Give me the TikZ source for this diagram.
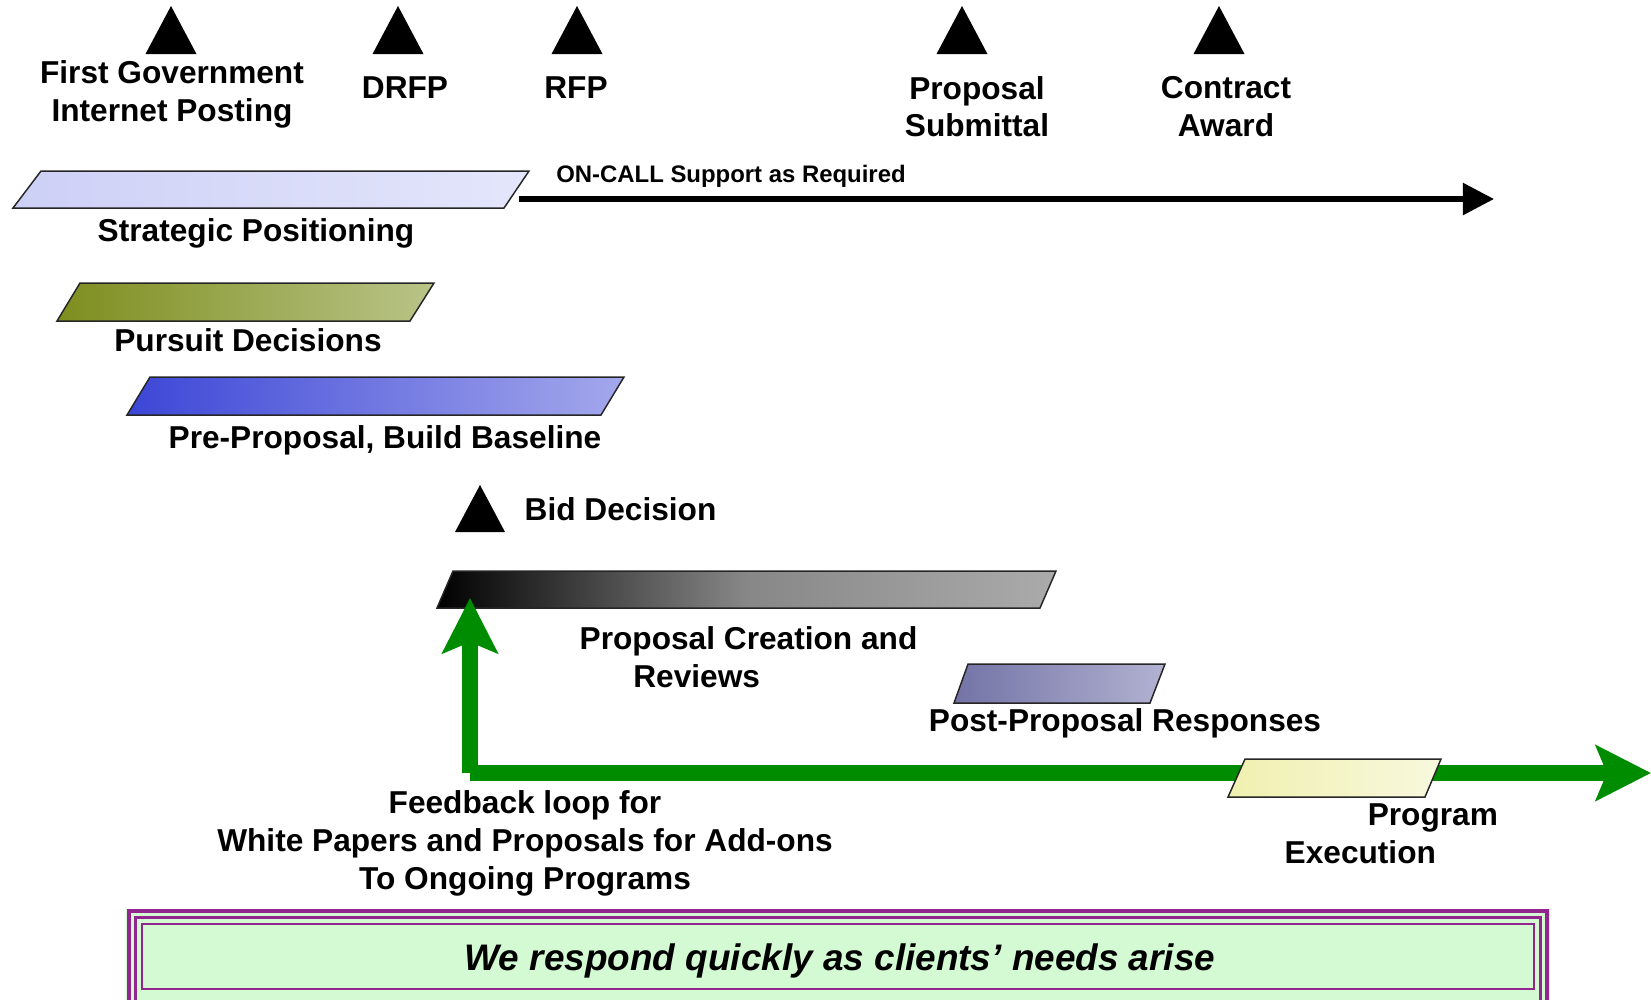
\documentclass[tikz,border=0pt]{standalone}
\usepackage{fontspec}
\setmainfont{Liberation Sans}
\usetikzlibrary{arrows.meta}

\definecolor{flowgreen}{RGB}{0,140,0}
\definecolor{framepurple}{RGB}{146,38,143}
\definecolor{mottogreen}{RGB}{212,250,212}

\begin{document}
\begin{tikzpicture}[x=0.01cm, y=-0.01cm,
	lbl/.style={font=\fontsize{9}{10.7}\selectfont\bfseries, inner sep=0pt, align=center},
	phase/.style={draw=black!85, line width=0.42pt},
	greenflow/.style={flowgreen, line width=4.6pt, -{Stealth[length=0.55cm, width=0.55cm, inset=0.11cm]}}]

	\useasboundingbox (0,0) rectangle (1651,999);

	% Milestones:
	\foreach \x in {171, 398, 577, 962, 1219}
		\fill (\x,6) -- ++(-25.5,48) -- ++(51,0) -- cycle;
	\fill (480,485) -- ++(-25,47) -- ++(50,0) -- cycle;

	% Bars:
	\draw[phase, left color={rgb,255:red,205;green,208;blue,246}, right color={rgb,255:red,228;green,230;blue,251}]
		(41,171) -- (529,171) -- (504,208) -- (13,208) -- cycle;
	\draw[phase, left color={rgb,255:red,126;green,142;blue,30}, right color={rgb,255:red,185;green,196;blue,136}]
		(80,283) -- (434,283) -- (410,321) -- (57,321) -- cycle;
	\draw[phase, left color={rgb,255:red,60;green,70;blue,214}, right color={rgb,255:red,164;green,168;blue,236}]
		(150,377) -- (624,377) -- (601,415) -- (127,415) -- cycle;
	\draw[phase, left color=black, right color=black!33, middle color=black!47]
		(453,571) -- (1056,571) -- (1040,608) -- (437,608) -- cycle;
	\draw[phase, left color={rgb,255:red,115;green,115;blue,166}, right color={rgb,255:red,178;green,178;blue,210}]
		(968,664) -- (1165,664) -- (1150,703) -- (954,703) -- cycle;

	% Arrows:
	\coordinate (callstart) at (519,199);
	\coordinate (callend) at (1494,199);
	\coordinate (corner) at (470,773);
	\coordinate (looptop) at (470,598);
	\coordinate (flowend) at (1651,773);
	\draw[line width=1.55pt, -{Triangle[length=0.31cm, width=0.31cm]}] (callstart) -- (callend);
	\draw[greenflow] (corner) -- (flowend);
	\draw[greenflow] (corner) -- (looptop);

	\draw[phase, left color={rgb,255:red,240;green,240;blue,176}, right color={rgb,255:red,248;green,248;blue,222}]
		(1245,759) -- (1441,759) -- (1425,797) -- (1228,797) -- cycle;

	% Motto box:
	\fill[mottogreen] (126,909) rectangle (1550,1020);
	\draw[framepurple, line width=1.1pt] (129,911) rectangle (1547,1020);
	\draw[framepurple, line width=0.85pt] (135.5,917.5) rectangle (1540.5,1020);
	\draw[framepurple, line width=0.6pt] (142,924) rectangle (1534,989);

	% Labels
	\node[lbl] (firstpost) at (172,94.5) {First Government\\Internet Posting};
	\node[lbl] (drfp) at (405,88) {DRFP};
	\node[lbl] (rfp) at (576,88) {RFP};
	\node[lbl] (submittal) at (977,106.5) {Proposal\\Submittal};
	\node[lbl] (award) at (1226,106.5) {Contract\\Award};
	\node[lbl, font=\fontsize{6.8}{8}\selectfont\bfseries] (oncall) at (731,176.5) {ON-CALL Support as Required};
	\node[lbl] (strategic) at (256,233) {Strategic Positioning};
	\node[lbl] (pursuit) at (248,340) {Pursuit Decisions};
	\node[lbl] (preprop) at (385,440) {Pre-Proposal, Build Baseline};
	\node[lbl, anchor=west] (bid) at (524,509) {Bid Decision};
	\node[lbl, anchor=west, align=left] (creation) at (579,657) {Proposal Creation and\\\hspace*{0.536cm}Reviews};
	\node[lbl] (postprop) at (1125,723.4) {Post-Proposal Responses};
	\node[lbl, anchor=west, align=left] (progexec) at (1284,834) {\hspace*{0.83cm}Program\\Execution};
	\node[lbl] (feedback) at (525,843.4) {Feedback loop for\\White Papers and Proposals for Add-ons\\To Ongoing Programs};
	\node[lbl, font=\fontsize{10.5}{12}\selectfont\bfseries\itshape] (motto) at (840,960.5) {We respond quickly as clients’ needs arise};

\end{tikzpicture}
\end{document}
